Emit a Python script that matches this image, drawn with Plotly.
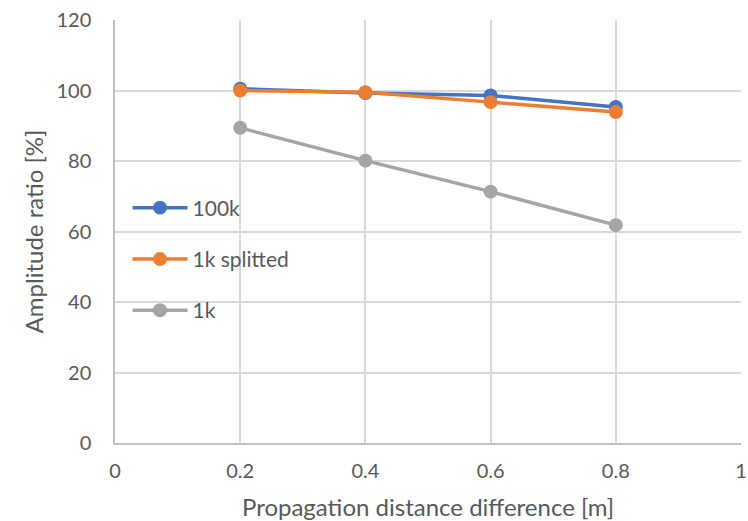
import plotly.graph_objects as go

# Propagation distance difference [m]
distance = [0.2, 0.4, 0.6, 0.8]

# Amplitude ratio [%] per series
ratio_100k = [100.5, 99.3, 98.6, 95.3]
ratio_1k_splitted = [100.0, 99.5, 96.7, 93.9]
ratio_1k = [89.4, 80.1, 71.3, 61.8]

series = [
    ("100k", ratio_100k, "#4472c4"),
    ("1k splitted", ratio_1k_splitted, "#ed7d31"),
    ("1k", ratio_1k, "#a5a5a5"),
]

x_ticks = [0, 0.2, 0.4, 0.6, 0.8, 1]
x_tick_text = ["0", "0.2", "0.4", "0.6", "0.8", "1"]
y_ticks = [0, 20, 40, 60, 80, 100, 120]

font_family = "Lato, 'Open Sans', sans-serif"
text_color = "#595959"

fig = go.Figure()
for name, values, color in series:
    fig.add_trace(go.Scatter(
        x=distance, y=values, name=name, mode="lines+markers",
        line=dict(color=color, width=3.5),
        marker=dict(color=color, size=14),
        legendgroup=name,
    ))

fig.update_layout(
    width=748, height=521,
    margin=dict(l=115, r=7, t=17, b=78),
    paper_bgcolor="white", plot_bgcolor="white",
    font=dict(family=font_family, color=text_color, size=20),
    showlegend=True,
    legend=dict(
        x=0.02, y=0.604, xanchor="left", yanchor="top",
        bgcolor="rgba(0,0,0,0)", font=dict(size=21, color=text_color),
        tracegroupgap=21, traceorder="grouped", itemwidth=55,
    ),
    xaxis=dict(
        range=[0, 1], tickvals=x_ticks, ticktext=x_tick_text,
        showgrid=True, gridcolor="#d9d9d9", gridwidth=1.5,
        showline=True, linecolor="#bfbfbf", linewidth=1.5,
        zeroline=False, ticks="", ticklen=0, ticklabelstandoff=9,
        tickfont=dict(size=20, color=text_color), automargin=False,
        title=dict(text="Propagation distance difference [m]",
                   font=dict(size=24, color=text_color), standoff=18),
    ),
    yaxis=dict(
        range=[0, 120], tickvals=y_ticks,
        showgrid=True, gridcolor="#d9d9d9", gridwidth=1.5,
        showline=True, linecolor="#bfbfbf", linewidth=1.5,
        zeroline=False, ticks="", ticklen=0, ticklabelstandoff=18,
        tickfont=dict(size=20, color=text_color),
        title=dict(text="Amplitude ratio [%]",
                   font=dict(size=24, color=text_color), standoff=6),
    ),
)

fig.write_html("out.html")
